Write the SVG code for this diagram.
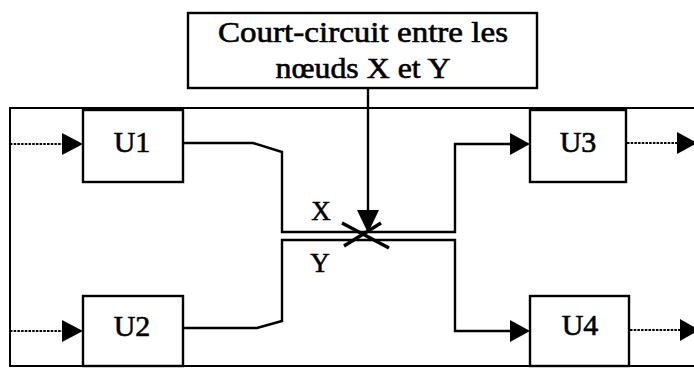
<svg xmlns="http://www.w3.org/2000/svg" width="694" height="368" viewBox="0 0 694 368">
<defs>
<style>
.box{fill:#fff;stroke:#000;stroke-width:2.4}
.wire{fill:none;stroke:#000;stroke-width:2.4;stroke-linejoin:miter}
.dot{fill:none;stroke:#000;stroke-width:2;stroke-dasharray:2.5 1.2}
.frame{fill:none;stroke:#000;stroke-width:2}
.lbl{font-family:"Liberation Serif","Times New Roman",serif;fill:#000;stroke:#000;stroke-width:0.6;text-anchor:middle}
.head{fill:#000;stroke:none}
</style>
</defs>
<rect width="694" height="368" fill="#fff"/>
<g id="frame">
<path class="frame" d="M694,108 H10 V366 H694"/>
</g>
<g id="connectors">
<line class="dot" x1="10" y1="144" x2="64" y2="144"/>
<polygon class="head" points="62,133 83,144 62,155"/>
<line class="dot" x1="10" y1="331" x2="64" y2="331"/>
<polygon class="head" points="62,320 83,331 62,342"/>
<line class="dot" x1="627" y1="143" x2="679" y2="143"/>
<polygon class="head" points="677,132 697,143 677,154"/>
<line class="dot" x1="630" y1="330" x2="682" y2="330"/>
<polygon class="head" points="680,319 699,330 680,341"/>
<path class="wire" d="M183,143 H253 L282,152 V232 H455 V144 H512"/>
<polygon class="head" points="510,133 530,144 510,155"/>
<path class="wire" d="M183,328 H257 L282,321 V240 H455 V331 H512"/>
<polygon class="head" points="510,320 530,331 510,342"/>
<line class="wire" x1="368" y1="89" x2="368" y2="212"/>
<polygon class="head" points="357,210 368,233 379,210"/>
<line class="wire" x1="342" y1="223" x2="389" y2="248" style="stroke-width:3.4"/>
<line class="wire" x1="344" y1="246" x2="381" y2="223" style="stroke-width:3.4"/>
</g>
<g id="short-label">
<rect class="box" x="188" y="13" width="349" height="75"/>
<text class="lbl" x="363" y="42" font-size="29" textLength="290" lengthAdjust="spacingAndGlyphs">Court-circuit entre les</text>
<text class="lbl" x="363" y="78" font-size="29" textLength="175" lengthAdjust="spacingAndGlyphs">nœuds X et Y</text>
</g>
<g id="U1">
<rect class="box" x="83" y="110" width="100" height="72"/>
<text class="lbl" x="132" y="152" font-size="30">U1</text>
</g>
<g id="U2">
<rect class="box" x="83" y="296" width="100" height="70"/>
<text class="lbl" x="132" y="336" font-size="30">U2</text>
</g>
<g id="U3">
<rect class="box" x="530" y="110" width="96" height="72"/>
<text class="lbl" x="578" y="152" font-size="30">U3</text>
</g>
<g id="U4">
<rect class="box" x="530" y="296" width="99" height="70"/>
<text class="lbl" x="580" y="335" font-size="30">U4</text>
</g>
<g id="net-labels">
<text class="lbl" x="321" y="220" font-size="27">X</text>
<text class="lbl" x="320" y="272" font-size="27">Y</text>
</g>
</svg>
